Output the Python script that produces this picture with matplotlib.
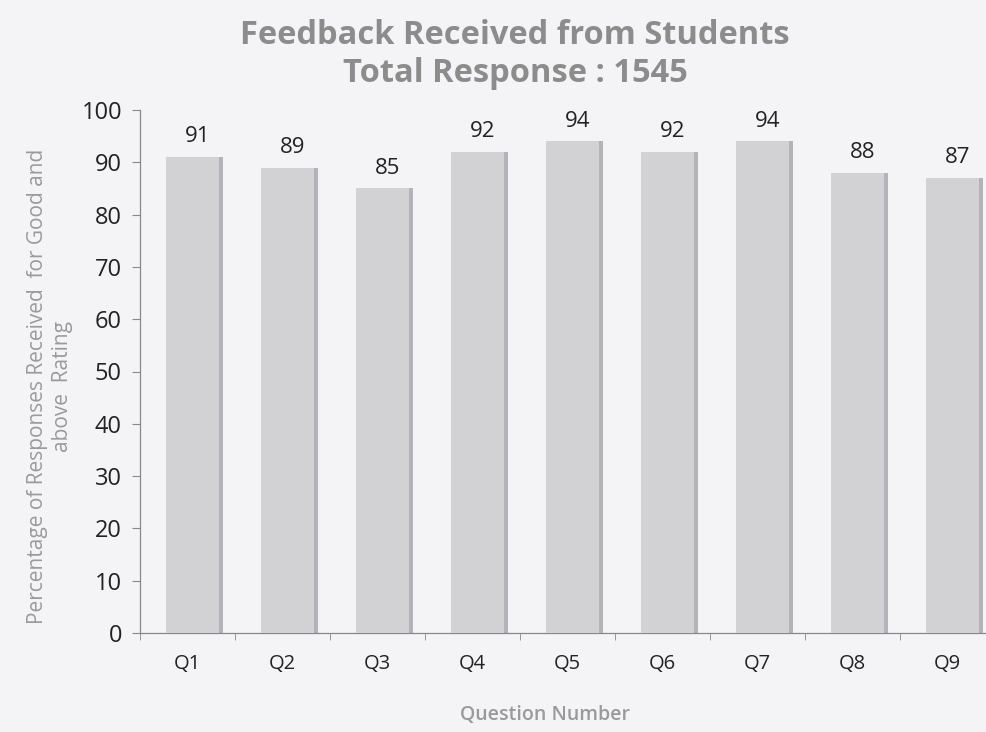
import numpy as np
import matplotlib
matplotlib.use('Agg')
import matplotlib.pyplot as plt

# data
questions = ['Q1', 'Q2', 'Q3', 'Q4', 'Q5', 'Q6', 'Q7', 'Q8', 'Q9']
percent_good = [91, 89, 85, 92, 94, 92, 94, 88, 87]
title = 'Feedback Received from Students\nTotal Response : 1545'

bg = '#f4f4f7'
fig = plt.figure(figsize=(9.87, 7.32), dpi=100, facecolor=bg)
ax = fig.add_axes([140 / 987, 99 / 732, 855 / 987, 523 / 732])
ax.set_facecolor(bg)

x = np.arange(len(questions))
bar_w = 0.56

# soft shadow on the right edge of each bar
ax.bar(x + 0.05 + bar_w / 2 + 0.02, percent_good, width=0.05, color='#b4b4b8', zorder=2)
ax.bar(x + 0.05, percent_good, width=bar_w, color='#d2d2d4', zorder=3)

for xi, v in zip(x, percent_good):
    ax.annotate(str(v), (xi + 0.05, v), xytext=(4, 7), textcoords='offset points',
                ha='center', va='bottom', fontsize=16, color='#222222',
                family='Open Sans')

ax.set_xlim(-0.5, len(questions) - 0.5)
ax.set_ylim(0, 100)
ax.set_yticks(range(0, 101, 10))
ax.set_xticks(x)
ax.set_xticklabels(questions)
# ticks sit between the categories
ax.set_xticks(np.arange(-0.5, len(questions), 1), minor=True)
ax.tick_params(axis='x', which='major', length=0, pad=15, labelsize=14.5,
               labelcolor='#222222')
ax.tick_params(axis='x', which='minor', length=5, color='#888888')
ax.tick_params(axis='y', length=6, color='#888888', labelsize=17,
               labelcolor='#222222', pad=7)
for lab in ax.get_xticklabels() + ax.get_yticklabels():
    lab.set_family('Open Sans')

for s in ['top', 'right']:
    ax.spines[s].set_visible(False)
for s in ['left', 'bottom']:
    ax.spines[s].set_color('#888888')
    ax.spines[s].set_linewidth(0.9)

ax.set_ylabel('Percentage of Responses Received  for Good and\nabove  Rating',
              fontsize=15, color='#9a9a9a', family='Open Sans',
              linespacing=1.25)
ax.yaxis.set_label_coords(-0.078, 0.472)
ax.set_xlabel('Question Number', fontsize=14, color='#9a9a9a',
              family='Open Sans', fontweight='semibold')
ax.xaxis.set_label_coords((545 - 140) / 855, -0.138)

fig.text(515 / 987, 1 - 55 / 732, title, ha='center', va='center',
         fontsize=23.5, fontweight='bold', color='#8c8c8c', family='Open Sans',
         linespacing=1.2)

fig.savefig('out.png', dpi=100, facecolor=bg)
